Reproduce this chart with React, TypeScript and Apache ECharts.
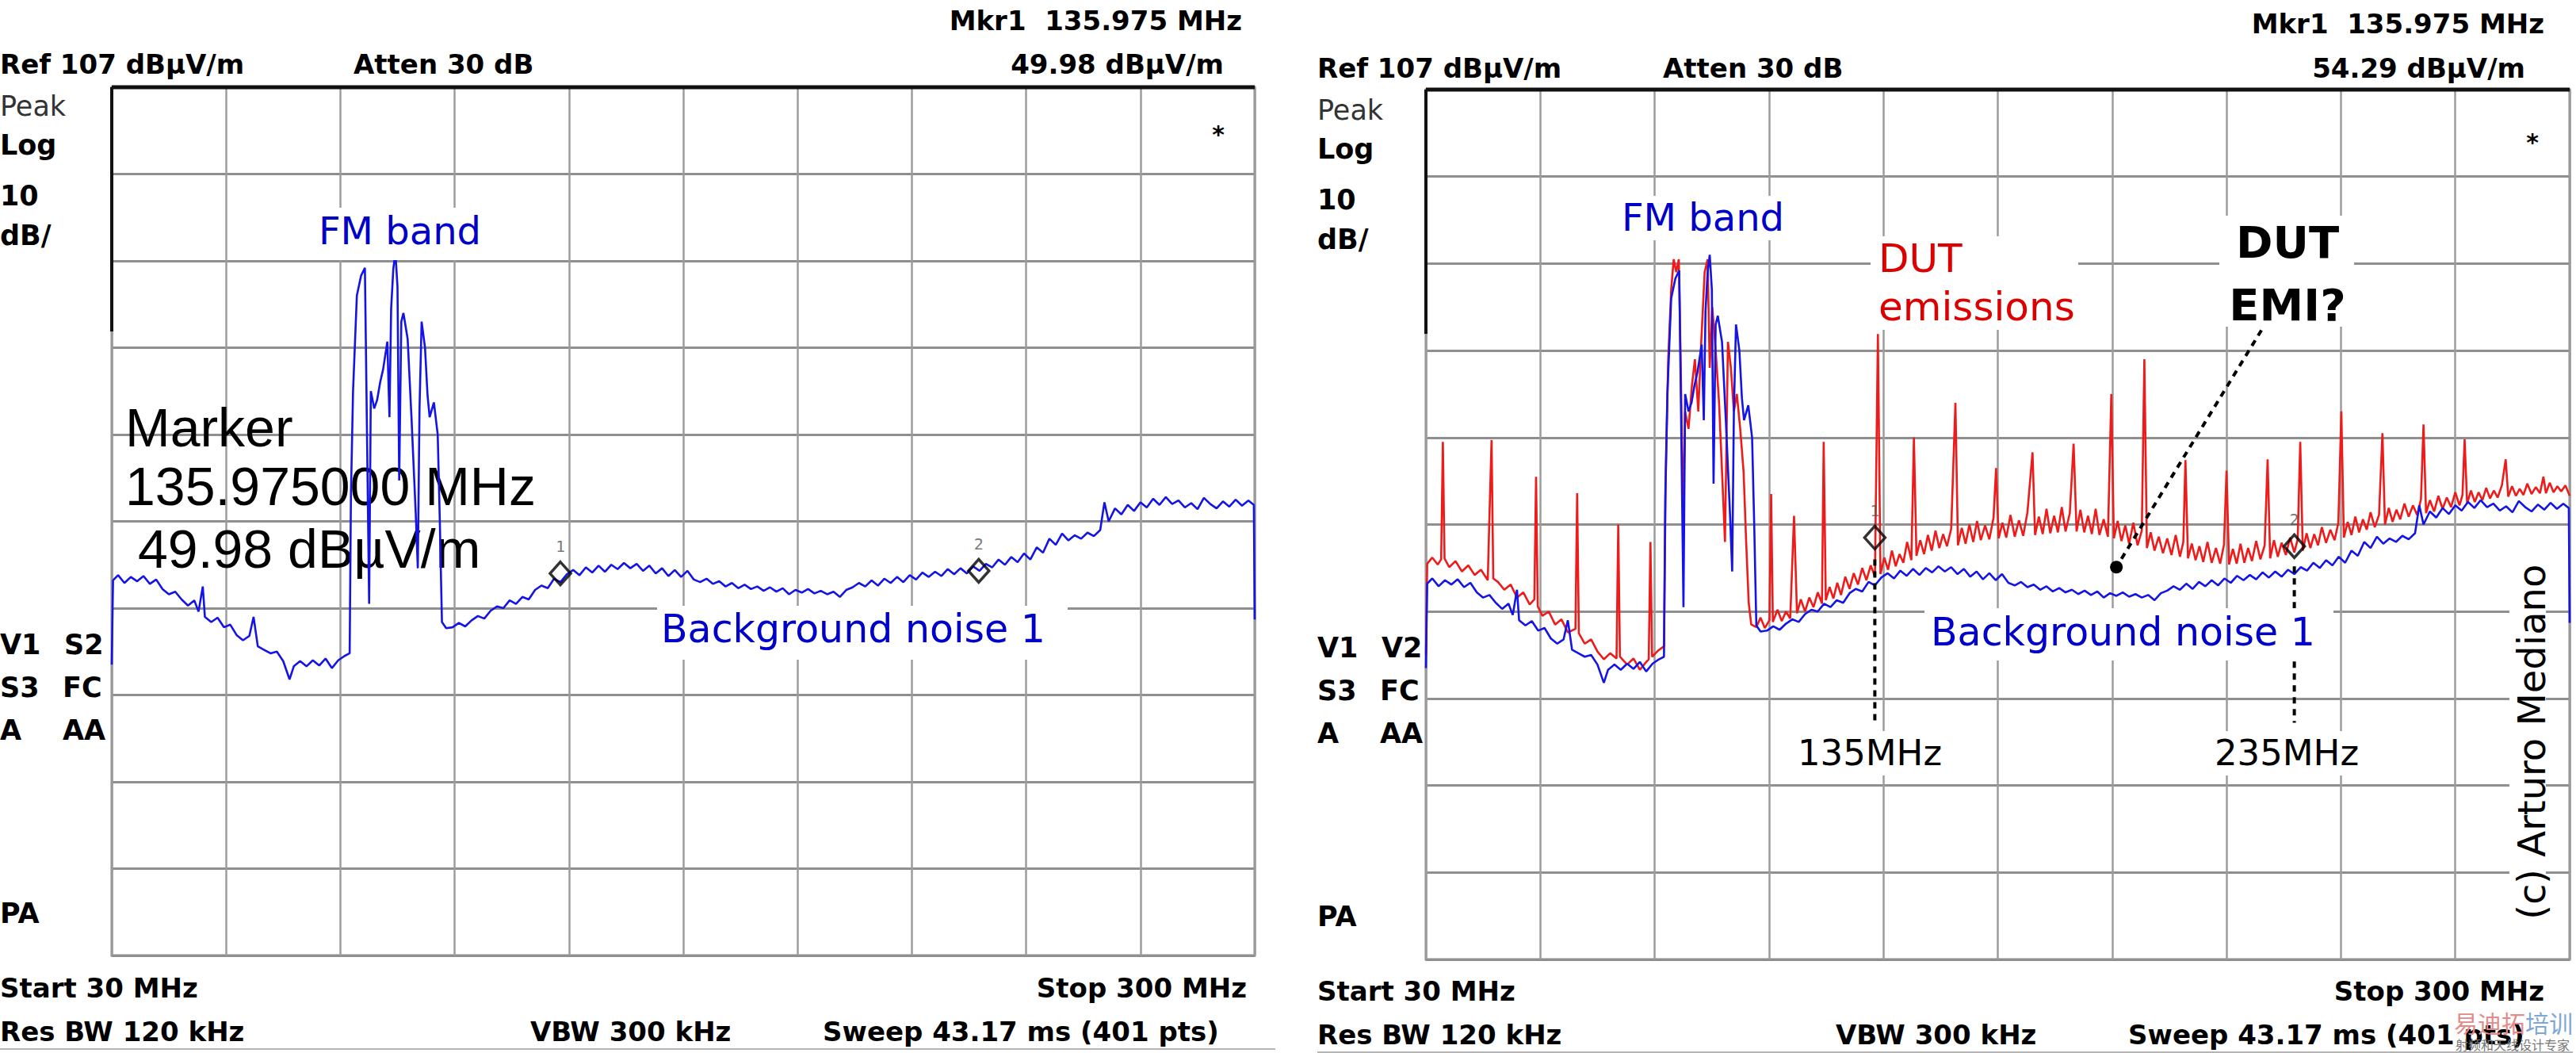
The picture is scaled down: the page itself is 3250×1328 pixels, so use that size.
import React, { useEffect, useRef } from "react";
import * as echarts from "echarts";

// ---------- DATA ----------
// frequency span (MHz) and reference level span (dBuV/m)
const freqSpan = [30, 300];
const levelSpan = [7, 107];
const divisions = 10;

// Background noise trace [MHz, dBuV/m]
const backgroundNoise: [number, number][] = [
  [30.0, 40.5], [30.3, 50.2], [31.5, 50.8], [33.0, 49.9], [34.5, 50.6], [36.0, 50.1], [37.5, 50.7], [39.0, 49.8],
  [40.5, 50.3], [42.0, 49.2], [43.5, 48.6], [45.0, 48.9], [46.5, 48.0], [48.0, 47.3], [49.5, 47.9], [50.5, 46.6],
  [51.5, 49.5], [52.0, 46.0], [53.5, 45.4], [55.0, 45.9], [56.5, 44.8], [58.0, 45.1], [59.5, 43.9], [61.0, 43.3],
  [62.5, 43.8], [63.5, 46.0], [64.5, 42.6], [66.0, 42.2], [67.5, 41.8], [69.0, 42.0], [70.5, 40.9], [72.0, 38.8],
  [73.0, 40.3], [74.5, 40.9], [76.0, 40.3], [77.5, 41.0], [79.0, 40.4], [80.5, 41.2], [82.0, 40.1], [83.5, 41.0],
  [85.0, 41.5], [86.2, 41.8],
  [86.5, 60], [87.0, 72], [87.9, 83], [88.9, 85.3], [89.8, 86.2], [90.3, 67], [90.8, 47.5], [91.2, 72], [92.0, 70],
  [92.7, 71], [93.4, 73], [94.1, 74.5], [95.1, 77.7], [95.6, 69], [96.0, 81.5], [96.5, 86], [97.0, 88], [97.5, 84],
  [97.9, 61.7], [98.4, 80], [98.9, 81], [99.9, 78], [100.8, 69], [101.8, 58], [102.3, 51.6], [102.7, 70], [103.2, 80],
  [104.0, 77], [104.6, 71.5], [105.1, 69], [106.1, 70.7], [107.0, 67], [107.5, 57], [108.0, 45.4], [109.0, 44.7],
  [110.5, 44.8], [112.0, 45.3], [113.5, 44.9], [115.0, 45.6], [116.5, 46.1], [118.0, 45.8], [119.5, 46.7], [121.0, 47.2],
  [122.5, 47.0], [124.0, 47.9], [125.5, 47.5], [127.0, 48.3], [128.5, 48.0], [130.0, 49.1], [131.5, 49.6], [133.0, 49.3],
  [134.5, 50.4], [136.0, 50.0], [137.5, 50.9], [139.0, 51.4], [140.5, 50.8], [142.0, 51.7], [143.5, 51.1], [145.0, 51.9],
  [146.5, 51.2], [148.0, 52.0], [149.5, 51.5], [151.0, 52.2], [152.5, 51.6], [154.0, 52.1], [155.5, 51.3], [157.0, 51.9],
  [158.5, 51.0], [160.0, 51.6], [161.5, 50.7], [163.0, 51.4], [164.5, 50.6], [166.0, 51.3], [167.5, 50.3], [169.0, 50.0],
  [170.5, 50.4], [172.0, 49.8], [173.5, 50.1], [175.0, 49.5], [176.5, 49.9], [178.0, 49.3], [179.5, 49.7], [181.0, 49.2],
  [182.5, 49.5], [184.0, 49.0], [185.5, 49.4], [187.0, 48.9], [188.5, 49.3], [190.0, 48.6], [191.5, 49.1], [193.0, 48.8],
  [194.5, 49.2], [196.0, 48.7], [197.5, 49.0], [199.0, 48.6], [200.5, 48.9], [202.0, 48.3], [203.5, 49.1], [205.0, 49.4],
  [206.5, 49.9], [208.0, 49.5], [209.5, 50.2], [211.0, 49.6], [212.5, 50.4], [214.0, 49.9], [215.5, 50.6], [217.0, 50.0],
  [218.5, 50.8], [220.0, 50.3], [221.5, 51.1], [223.0, 50.6], [224.5, 51.2], [226.0, 50.7], [227.5, 51.5], [229.0, 50.9],
  [230.5, 51.6], [232.0, 51.0], [233.5, 51.8], [235.0, 51.3], [236.5, 52.1], [238.0, 51.7], [239.5, 52.6], [241.0, 52.0],
  [242.5, 52.9], [244.0, 52.3], [245.5, 53.3], [247.0, 52.6], [248.5, 54.0], [250.0, 53.4], [251.5, 55.0], [253.0, 54.3],
  [254.5, 55.6], [256.0, 54.8], [257.5, 55.4], [259.0, 55.0], [260.5, 55.7], [262.0, 55.3], [263.5, 56.0], [264.5, 59.2],
  [265.5, 57.0], [267.0, 58.5], [268.5, 57.8], [270.0, 58.9], [271.5, 58.2], [273.0, 59.2], [274.5, 58.6], [276.0, 59.6],
  [277.5, 58.9], [279.0, 59.8], [280.5, 59.0], [282.0, 59.4], [283.5, 58.6], [285.0, 59.1], [286.5, 58.4], [288.0, 59.7],
  [289.5, 59.0], [291.0, 58.5], [292.5, 59.3], [294.0, 58.7], [295.5, 59.5], [297.0, 58.8], [298.5, 59.4], [299.8, 58.9],
  [300.0, 45.7],
];

// DUT emissions trace [MHz, dBuV/m]
const dutEmissions: [number, number][] = [
  [30.0, 42.0], [30.3, 52.5], [31.5, 53.2], [32.8, 52.4], [33.6, 53.0], [34.0, 66.5], [34.4, 53.1], [35.5, 52.1],
  [37.0, 52.8], [38.5, 51.6], [40.0, 52.3], [41.5, 51.2], [43.0, 51.8], [44.6, 50.6], [45.0, 58.0], [45.5, 66.7],
  [45.9, 50.8], [47.0, 50.4], [48.5, 49.5], [50.0, 50.1], [51.5, 48.6], [53.0, 49.2], [54.5, 47.8], [55.6, 48.4],
  [56.0, 62.5], [56.4, 47.6], [57.5, 46.5], [59.0, 47.0], [60.5, 45.5], [62.0, 46.1], [63.5, 44.6], [65.3, 45.0],
  [65.7, 60.6], [66.1, 44.5], [67.5, 43.3], [69.0, 43.8], [70.5, 42.4], [72.0, 41.5], [73.5, 42.2], [75.0, 41.6],
  [75.4, 57.0], [75.8, 41.8], [77.5, 40.9], [79.0, 41.6], [80.5, 40.3], [82.0, 41.2], [82.6, 41.5], [83.0, 55.0],
  [83.4, 41.8], [84.8, 42.5], [86.2, 43.0],
  [86.6, 62], [87.2, 76], [87.9, 84], [88.5, 87.5], [89.1, 86], [89.7, 87.5], [90.2, 74], [90.7, 58], [91.2, 70],
  [92.0, 68], [92.8, 73], [93.5, 76], [94.3, 70], [95.0, 78], [95.8, 86], [96.5, 87.5], [97.0, 75], [97.6, 82],
  [98.4, 77], [99.2, 71], [100.0, 62], [100.6, 55], [101.3, 78], [102.0, 75], [102.7, 70], [103.4, 72], [104.2, 68],
  [105.0, 63], [105.6, 55], [106.2, 48], [106.8, 45.5],
  [108.0, 45.2], [109.0, 46.3], [110.0, 45.1], [111.1, 46.0], [111.5, 60.5], [111.9, 45.8], [113.0, 47.2], [114.0, 45.9],
  [115.0, 47.0], [116.0, 46.2], [116.9, 58.0], [117.6, 46.8], [118.5, 48.4], [119.5, 47.0], [120.5, 48.6], [121.5, 47.5],
  [122.5, 49.2], [123.5, 47.9], [123.9, 66.5], [124.4, 48.3], [125.3, 49.8], [126.2, 48.5], [127.1, 50.3], [128.0, 48.9],
  [129.0, 51.0], [130.0, 49.6], [131.0, 51.4], [132.0, 50.1], [133.0, 52.0], [134.0, 50.6], [135.0, 52.3], [136.0, 51.0],
  [136.7, 78.9], [137.3, 51.3], [138.2, 53.2], [139.1, 51.8], [140.0, 54.0], [140.9, 52.2], [141.8, 53.6], [142.7, 52.6],
  [143.6, 55.0], [144.6, 52.9], [145.2, 67.0], [145.8, 53.4], [146.7, 55.2], [147.6, 53.6], [148.5, 55.8], [149.4, 54.0],
  [150.3, 56.3], [151.2, 54.3], [152.1, 55.9], [153.0, 54.5], [154.0, 56.5], [155.0, 71.0], [155.6, 54.6], [156.5, 56.6],
  [157.4, 54.8], [158.3, 57.0], [159.2, 55.0], [160.1, 57.4], [161.0, 55.2], [162.0, 56.9], [163.0, 55.3], [164.0, 57.8],
  [164.6, 63.5], [165.2, 55.4], [166.1, 57.2], [167.0, 55.5], [168.0, 58.1], [169.0, 55.6], [170.0, 57.5], [171.0, 55.7],
  [172.0, 58.4], [173.2, 65.3], [173.8, 55.8], [174.7, 57.9], [175.6, 55.9], [176.5, 58.8], [177.4, 56.0], [178.3, 58.0],
  [179.2, 56.1], [180.1, 59.0], [181.0, 56.2], [182.0, 58.3], [182.9, 66.3], [183.6, 56.2], [184.5, 58.7], [185.4, 56.1],
  [186.3, 58.0], [187.2, 55.9], [188.1, 58.8], [189.0, 55.8], [190.0, 57.6], [191.0, 55.6], [191.8, 72.0], [192.4, 55.4],
  [193.3, 57.4], [194.2, 55.1], [195.1, 56.9], [196.0, 54.8], [197.0, 57.2], [198.0, 54.6], [199.0, 56.3], [199.6, 76.0],
  [200.2, 54.3], [201.1, 56.1], [202.0, 54.0], [203.0, 55.6], [204.0, 53.7], [205.0, 55.4], [206.0, 53.5], [207.0, 55.8],
  [208.0, 53.3], [208.8, 55.0], [209.3, 64.4], [209.9, 53.1], [210.8, 54.8], [211.7, 52.9], [212.6, 54.5], [213.5, 52.7],
  [214.5, 55.0], [215.5, 52.6], [216.5, 54.3], [217.5, 52.5], [218.4, 54.7], [219.0, 63.2], [219.6, 52.4], [220.5, 54.2],
  [221.4, 52.5], [222.3, 54.8], [223.2, 52.6], [224.1, 54.3], [225.0, 52.8], [226.0, 55.1], [227.0, 53.0], [228.0, 54.6],
  [228.7, 64.5], [229.3, 53.1], [230.2, 55.2], [231.1, 53.3], [232.0, 54.9], [233.0, 53.5], [234.0, 55.5], [235.0, 53.8],
  [235.8, 55.3], [236.4, 66.5], [237.0, 54.0], [237.9, 56.0], [238.8, 54.3], [239.7, 55.9], [240.6, 54.6], [241.5, 56.7],
  [242.5, 54.9], [243.5, 56.4], [244.5, 55.2], [245.4, 57.2], [246.1, 70.0], [246.7, 55.5], [247.6, 57.3], [248.5, 55.8],
  [249.4, 57.9], [250.3, 56.1], [251.2, 57.6], [252.1, 56.4], [253.0, 58.4], [254.0, 56.7], [255.0, 58.1], [255.8, 67.5],
  [256.4, 57.0], [257.3, 58.9], [258.2, 57.3], [259.1, 58.7], [260.0, 57.6], [261.0, 59.4], [262.0, 57.9], [263.0, 59.2],
  [264.0, 58.1], [264.9, 59.9], [265.5, 68.5], [266.1, 58.3], [267.0, 59.8], [268.0, 58.5], [269.0, 60.3], [270.0, 58.8],
  [271.0, 60.1], [272.0, 59.0], [273.0, 60.7], [274.0, 59.2], [274.7, 60.4], [275.2, 66.8], [275.8, 59.4], [276.7, 60.9],
  [277.6, 59.6], [278.5, 60.7], [279.4, 59.8], [280.3, 61.2], [281.2, 60.0], [282.1, 60.9], [283.0, 60.1], [284.0, 61.5],
  [284.9, 64.5], [285.5, 60.2], [286.4, 61.4], [287.3, 60.3], [288.2, 61.1], [289.1, 60.4], [290.0, 61.7], [291.0, 60.5],
  [292.0, 61.3], [293.0, 60.6], [293.8, 62.5], [294.4, 60.6], [295.3, 61.8], [296.2, 60.7], [297.1, 61.4], [298.0, 60.8],
  [299.0, 61.5], [300.0, 60.3],
];

// Markers [MHz, dBuV/m, label]
const markersLeft: [number, number, string][] = [[135.975, 51.0], [234.8, 51.3]].map((m, i) => [m[0], m[1], String(i + 1)] as [number, number, string]);
const markersRight: [number, number, string][] = [[135.975, 55.5], [235.0, 54.5]].map((m, i) => [m[0], m[1], String(i + 1)] as [number, number, string]);

// Annotation lines (right panel) in data coordinates
const markerDrop1: [number, number][] = [[135.975, 53.0], [135.975, 34.2]];
const markerDrop2: [number, number][] = [[235.0, 52.2], [235.0, 34.2]];
const emiPointer: [number, number][] = [[228.7, 80.5], [193.0, 52.1]];

// ---------- CHART ----------
const BLUE = "#1414e6";
const RED = "#ee1b1b";
const HEAD = "DejaVu Sans";

function txt(x: number, baseline: number, text: string, size: number, o: any = {}) {
  return {
    type: "text",
    x,
    y: baseline - size * 0.36,
    z: o.z ?? 5,
    rotation: o.rotation ?? 0,
    style: {
      text,
      fontSize: size,
      fontFamily: o.family || HEAD,
      fontWeight: o.weight || "normal",
      fill: o.color || "#000",
      align: o.align || "left",
      verticalAlign: "middle",
    },
  };
}
function box(x: number, y: number, w: number, h: number) {
  return { type: "rect", z: 8, shape: { x, y, width: w, height: h }, style: { fill: "#fff" } };
}
function seg(x1: number, y1: number, x2: number, y2: number, color: string, width: number, z = 6) {
  return { type: "line", z, shape: { x1, y1, x2, y2 }, style: { stroke: color, lineWidth: width } };
}

function panelText(p: any) {
  const B = { weight: "bold" };
  const els: any[] = [
    txt(p.mkrX, p.h1, "Mkr1  135.975 MHz", 34, { ...B, align: "right" }),
    txt(p.x0, p.h2, "Ref 107 dBµV/m", 34, B),
    txt(p.attenX, p.h2, "Atten 30 dB", 34, B),
    txt(p.lvlX, p.h2, p.level, 34, { ...B, align: "right" }),
    txt(p.x0, p.peak, "Peak", 35, { color: "#333" }),
    txt(p.x0, p.peak + 49, "Log", 35, B),
    txt(p.x0, p.peak + 113, "10", 35, B),
    txt(p.x0, p.peak + 163, "dB/", 35, B),
    txt(p.x0, p.v1, "V1", 35, B),
    txt(p.x0 + 81, p.v1, p.v2, 35, B),
    txt(p.x0, p.v1 + 54, "S3", 35, B),
    txt(p.x0 + 79, p.v1 + 54, "FC", 35, B),
    txt(p.x0, p.v1 + 108, "A", 35, B),
    txt(p.x0 + 79, p.v1 + 108, "AA", 35, B),
    txt(p.x0, p.v1 + 339, "PA", 35, B),
    txt(p.x0, p.b1, "Start 30 MHz", 34, B),
    txt(p.stopX, p.b1, "Stop 300 MHz", 34, { ...B, align: "right" }),
    txt(p.x0, p.b1 + 55, "Res BW 120 kHz", 34, B),
    txt(p.vbwX, p.b1 + 55, "VBW 300 kHz", 34, B),
    txt(p.sweepX, p.b1 + 55, "Sweep 43.17 ms (401 pts)", 34, B),
    txt(p.starX, p.starY, "*", 30, { weight: "bold", align: "center" }),
    seg(p.gx, p.gy, p.gx + p.gw, p.gy, "#111", 5),
    seg(p.gx, p.gy, p.gx, p.gy + 308, "#111", 4),
    seg(p.x0, p.lineY, p.lineEnd, p.lineY, "#b5b5b5", 2),
  ];
  return els;
}

const gridsPx = [
  { left: 141, top: 110, width: 1442, height: 1095 },
  { left: 1799, top: 113, width: 1443, height: 1097 },
];

export default function App() {
  const ref = useRef<HTMLDivElement>(null);
  useEffect(() => {
    if (!ref.current) return;
    const chart = echarts.init(ref.current, undefined, { renderer: "svg" });

    const xAxis: any[] = [];
    const yAxis: any[] = [];
    gridsPx.forEach((_, g) => {
      xAxis.push({ gridIndex: g, type: "value", min: freqSpan[0], max: freqSpan[1], show: false });
      xAxis.push({
        gridIndex: g, type: "value", min: 0, max: divisions, interval: 1,
        axisLine: { show: false }, axisTick: { show: false }, axisLabel: { show: false },
        splitLine: { show: true, lineStyle: { color: "#9c9c9c", width: 2.5 } },
      });
      yAxis.push({ gridIndex: g, type: "value", min: levelSpan[0], max: levelSpan[1], show: false });
      yAxis.push({
        gridIndex: g, type: "value", min: 0, max: divisions, interval: 1,
        axisLine: { show: false }, axisTick: { show: false }, axisLabel: { show: false },
        splitLine: { show: true, lineStyle: { color: "#8f8f8f", width: 3 } },
      });
    });

    const trace = (data: any, g: number, color: string, z: number) => ({
      type: "line", xAxisIndex: g * 2, yAxisIndex: g * 2, data, showSymbol: false, symbol: "none",
      lineStyle: { color, width: 2.6 }, z, silent: true,
    });
    const markers = (data: [number, number, string][], g: number) => ({
      type: "scatter", xAxisIndex: g * 2, yAxisIndex: g * 2, z: 6,
      data: data.map((m) => ({ value: [m[0], m[1]], label: { formatter: m[2] } })),
      symbol: "diamond", symbolSize: [26, 29],
      itemStyle: { color: "rgba(0,0,0,0)", borderColor: "#000", borderWidth: 3.5 },
      label: { show: true, position: "top", distance: 8, color: "#555", fontSize: 20, fontFamily: "DejaVu Sans Mono" },
    });
    const dashed = (data: any, g: number) => ({
      type: "line", xAxisIndex: g * 2, yAxisIndex: g * 2, data, symbol: "none", z: 7,
      lineStyle: { color: "#000", width: 4, type: [8, 7] },
    });

    const series: any[] = [
      trace(backgroundNoise, 0, BLUE, 3),
      markers(markersLeft, 0),
      trace(dutEmissions, 1, RED, 3),
      trace(backgroundNoise, 1, BLUE, 4),
      markers(markersRight, 1),
      dashed(markerDrop1, 1),
      dashed(markerDrop2, 1),
      {
        ...dashed(emiPointer, 1),
        symbol: "circle", showSymbol: true,
        symbolSize: (_v: any, p: any) => (p.dataIndex === 1 ? 16 : 0),
        itemStyle: { color: "#000" },
      },
    ];

    const left = {
      x0: 0, h1: 38, h2: 93, mkrX: 1567, attenX: 446, lvlX: 1544, level: "49.98 dBµV/m",
      peak: 147, v1: 826, v2: "S2", b1: 1258, stopX: 1573, vbwX: 669, sweepX: 1038,
      starX: 1537, starY: 180, gx: 141, gy: 110, gw: 1442, lineY: 1323, lineEnd: 1609,
    };
    const right = {
      x0: 1662, h1: 42, h2: 98, mkrX: 3210, attenX: 2098, lvlX: 3186, level: "54.29 dBµV/m",
      peak: 152, v1: 830, v2: "V2", b1: 1262, stopX: 3210, vbwX: 2316, sweepX: 2685,
      starX: 3195, starY: 190, gx: 1799, gy: 113, gw: 1443, lineY: 1327, lineEnd: 3246,
    };

    const graphic: any[] = [
      ...panelText(left),
      ...panelText(right),
      // left panel annotations
      box(397, 262, 227, 66),
      txt(402, 308, "FM band", 48, { color: "#0000c8", z: 9 }),
      txt(158, 563, "Marker", 68, { family: "Liberation Sans", z: 1 }),
      txt(158, 637, "135.975000 MHz", 68, { family: "Liberation Sans", z: 1 }),
      txt(174, 716, "49.98 dBµV/m", 68, { family: "Liberation Sans", z: 1 }),
      box(829, 764, 518, 68),
      txt(834, 811, "Background noise 1", 49, { color: "#0000c8", z: 9 }),
      // right panel annotations
      box(2041, 247, 215, 56),
      txt(2046, 291, "FM band", 48, { color: "#0000c8", z: 9 }),
      box(2360, 298, 262, 118),
      txt(2370, 344, "DUT", 50, { color: "#dd0000", z: 9 }),
      txt(2370, 405, "emissions", 50, { color: "#dd0000", z: 9 }),
      box(2800, 272, 170, 140),
      txt(2886, 326, "DUT", 56, { weight: "bold", align: "center", z: 9 }),
      txt(2886, 405, "EMI?", 56, { weight: "bold", align: "center", z: 9 }),
      box(2428, 767, 516, 66),
      txt(2436, 815, "Background noise 1", 49, { color: "#0000c8", z: 9 }),
      box(2258, 922, 200, 56),
      txt(2359, 966, "135MHz", 45, { align: "center", z: 9 }),
      box(2784, 922, 200, 56),
      txt(2885, 966, "235MHz", 45, { align: "center", z: 9 }),
      box(3166, 708, 46, 492),
      txt(3194, 953, "(c) Arturo Mediano", 48, { align: "center", rotation: Math.PI / 2, z: 9 }),
      // watermark
      txt(3096, 1300, "易迪拓", 30, { family: "Noto Sans CJK SC", color: "#e58a8a", z: 9 }),
      txt(3186, 1300, "培训", 30, { family: "Noto Sans CJK SC", color: "#7ea6d6", z: 9 }),
      txt(3098, 1323, "射频和天线设计专家", 16, { family: "Noto Sans CJK SC", color: "#777", z: 9 }),
    ];

    chart.setOption({
      animation: false,
      backgroundColor: "#fff",
      grid: gridsPx.map((g) => ({ ...g, show: true, borderColor: "#8a8a8a", borderWidth: 3, backgroundColor: "transparent" })),
      xAxis,
      yAxis,
      series,
      graphic,
    });
    return () => chart.dispose();
  }, []);
  return (
    <div
      ref={ref}
      style={{ position: "absolute", left: 0, top: 0, width: 3250, height: 1328, background: "#fff" }}
    />
  );
}
